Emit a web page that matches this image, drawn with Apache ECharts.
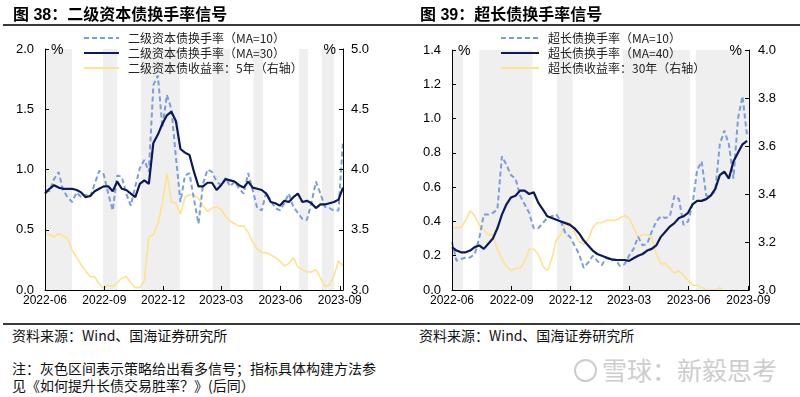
<!DOCTYPE html>
<html>
<head>
<meta charset="utf-8">
<script src="https://cdn.jsdelivr.net/npm/echarts@6/dist/echarts.min.js"></script>
<style>
    body { margin: 0; width: 800px; height: 397px; background: #fff; position: relative; overflow: hidden; font-family: "Noto Sans CJK SC", sans-serif; color: #000; }
    .chart { position: absolute; top: 0; width: 400px; height: 320px; }
    .title { position: absolute; top: 5px; font-size: 16px; line-height: 20px; font-weight: bold; font-family: "Liberation Sans", "Noto Sans CJK SC", sans-serif; }
    .rule { position: absolute; left: 3px; width: 797px; height: 2px; background: #3a3a3a; }
    .txt { position: absolute; font-size: 14px; line-height: 18px; color: #111; white-space: nowrap; }
    .wm { position: absolute; left: 574px; top: 354px; font-size: 25px; line-height: 30px; color: #cdcdcd; white-space: nowrap; }
    .wm .logo { display: inline-block; width: 19px; height: 19px; border: 2px solid #cdcdcd; border-radius: 50%; margin-right: 5px; vertical-align: -2px; }
</style>
</head>
<body>
<div id="main1" class="chart" style="left:0"></div>
<div id="main2" class="chart" style="left:400px"></div>

<div class="title" style="left:13px">图 38：二级资本债换手率信号</div>
<div class="title" style="left:420px">图 39：超长债换手率信号</div>
<div class="rule" style="top:24px"></div>
<div class="rule" style="top:323px"></div>
<div class="txt" style="left:12px; top:326px">资料来源：Wind、国海证券研究所</div>
<div class="txt" style="left:419px; top:326px">资料来源：Wind、国海证券研究所</div>
<div class="txt" style="left:12px; top:359px">注：灰色区间表示策略给出看多信号；指标具体构建方法参</div>
<div class="txt" style="left:12px; top:376px">见《如何提升长债交易胜率？》(后同）</div>
<div class="wm"><span class="logo"></span>雪球：新毅思考</div>

<script>
// x = days since 2022-06-01
var tickDays = [0, 92, 183, 273, 365, 457];
var tickLabels = ['2022-06', '2022-09', '2022-12', '2023-03', '2023-06', '2023-09'];

//---------图38 二级资本债
var days1 = [0, 7, 14, 21, 28, 35, 42, 49, 56, 63, 70, 77, 84, 91, 98, 105, 112, 119, 126, 133,
    140, 147, 154, 161, 168, 175, 182, 189, 196, 203, 210, 217, 224, 231, 238, 245, 252, 259, 266, 273,
    280, 287, 294, 301, 308, 315, 322, 329, 336, 343, 350, 357, 364, 371, 378, 385, 392, 399, 406, 413,
    420, 427, 434, 441, 448, 455, 462];
var ma10_1 = [0.83, 0.82, 0.92, 0.98, 0.83, 0.77, 0.73, 0.81, 0.77, 0.79, 0.77, 0.88, 0.99, 0.96, 0.80, 0.66, 0.95, 0.94, 0.80, 0.70,
    0.86, 1.01, 1.08, 0.98, 1.70, 1.78, 1.35, 1.62, 1.50, 1.10, 0.73, 0.95, 0.97, 0.75, 0.55, 0.88, 1.00, 0.98, 0.90, 0.87,
    0.93, 0.86, 0.90, 0.84, 0.80, 0.97, 0.83, 0.68, 0.66, 0.81, 0.74, 0.68, 0.66, 0.72, 0.80, 0.69, 0.64, 0.59, 0.58, 0.72,
    0.90, 0.80, 0.69, 0.68, 0.66, 0.66, 1.24];
var ma30_1 = [0.80, 0.84, 0.87, 0.85, 0.84, 0.84, 0.84, 0.83, 0.81, 0.77, 0.78, 0.82, 0.84, 0.86, 0.86, 0.82, 0.90, 0.84, 0.83, 0.80,
    0.77, 0.88, 0.91, 0.88, 1.22, 1.29, 1.38, 1.45, 1.48, 1.40, 1.17, 1.14, 1.12, 0.98, 0.86, 0.86, 0.89, 0.89, 0.83, 0.87,
    0.92, 0.91, 0.90, 0.87, 0.85, 0.90, 0.85, 0.84, 0.83, 0.80, 0.73, 0.72, 0.70, 0.74, 0.73, 0.77, 0.80, 0.73, 0.74, 0.72,
    0.68, 0.71, 0.71, 0.72, 0.73, 0.75, 0.85];
var yield5y = [3.46, 3.46, 3.44, 3.47, 3.45, 3.43, 3.33, 3.27, 3.21, 3.16, 3.11, 3.11, 3.05, 3.01, 3.04, 3.03, 3.06, 3.10, 3.11, 3.06,
    3.02, 3.02, 3.08, 3.44, 3.46, 3.55, 3.72, 3.97, 3.73, 3.72, 3.63, 3.77, 3.79, 3.79, 3.76, 3.70, 3.65, 3.68, 3.69, 3.67,
    3.61, 3.57, 3.55, 3.53, 3.53, 3.48, 3.40, 3.34, 3.31, 3.31, 3.29, 3.27, 3.24, 3.20, 3.22, 3.27, 3.19, 3.17, 3.15, 3.15,
    3.17, 3.10, 3.03, 3.04, 3.12, 3.24, 3.20];
var bands1 = [[0, 42], [90, 112], [149, 209], [260, 287], [323, 338], [394, 408], [429, 448]];
var names1 = ['二级资本债换手率（MA=10）', '二级资本债换手率（MA=30）', '二级资本债收益率：5年（右轴）'];

//---------图39 超长债
var days2 = [0, 7, 14, 21, 28, 35, 42, 49, 56, 63, 70, 77, 84, 91, 98, 105, 112, 119, 126, 133,
    140, 147, 154, 161, 168, 175, 182, 189, 196, 203, 210, 217, 224, 231, 238, 245, 252, 259, 266, 273,
    280, 287, 294, 301, 308, 315, 322, 329, 336, 343, 350, 357, 364, 371, 378, 385, 392, 399, 406, 413,
    420, 427, 434, 441, 448, 455];
var ma10_2 = [0.28, 0.17, 0.18, 0.19, 0.19, 0.21, 0.30, 0.44, 0.44, 0.45, 0.47, 0.78, 0.73, 0.67, 0.65, 0.55, 0.50, 0.45, 0.36, 0.36,
    0.39, 0.42, 0.43, 0.44, 0.40, 0.33, 0.31, 0.26, 0.21, 0.13, 0.16, 0.20, 0.17, 0.145, 0.19, 0.17, 0.18, 0.14, 0.15, 0.20,
    0.24, 0.31, 0.26, 0.27, 0.34, 0.40, 0.43, 0.42, 0.43, 0.55, 0.53, 0.38, 0.40, 0.50, 0.70, 0.75, 0.55, 0.55, 0.58, 0.85,
    0.93, 0.85, 0.65, 1.00, 1.13, 0.90];
var ma40_2 = [0.25, 0.23, 0.22, 0.22, 0.23, 0.25, 0.26, 0.24, 0.27, 0.30, 0.36, 0.44, 0.50, 0.54, 0.55, 0.58, 0.58, 0.56, 0.57, 0.51,
    0.47, 0.43, 0.42, 0.41, 0.40, 0.39, 0.38, 0.36, 0.33, 0.29, 0.26, 0.23, 0.21, 0.20, 0.19, 0.18, 0.175, 0.175, 0.175, 0.17,
    0.185, 0.20, 0.21, 0.23, 0.24, 0.26, 0.31, 0.34, 0.37, 0.39, 0.42, 0.43, 0.45, 0.50, 0.52, 0.52, 0.53, 0.55, 0.59, 0.67,
    0.69, 0.65, 0.75, 0.80, 0.85, 0.87];
var yield30y = [3.26, 3.26, 3.26, 3.29, 3.33, 3.31, 3.27, 3.25, 3.23, 3.23, 3.17, 3.13, 3.10, 3.08, 3.09, 3.09, 3.12, 3.17, 3.17, 3.15,
    3.10, 3.08, 3.13, 3.21, 3.23, 3.28, 3.28, 3.24, 3.20, 3.19, 3.21, 3.26, 3.28, 3.28, 3.29, 3.29, 3.29, 3.30, 3.31, 3.30,
    3.26, 3.22, 3.23, 3.23, 3.22, 3.15, 3.11, 3.11, 3.09, 3.07, 3.08, 3.06, 3.04, 3.02, 3.02, 3.01, 3.00, 3.00, 3.00, 3.01,
    2.99, 2.97, 2.96, 2.95, 2.96, 2.97];
var bands2 = [[0, 17], [42, 124], [162, 186], [264, 367], [376, 458]];
var names2 = ['超长债换手率（MA=10）', '超长债换手率（MA=40）', '超长债收益率：30年（右轴）'];

var C_MA10 = '#7c9ddb', C_MA = '#0c1a5b', C_YLD = '#ffe28c', C_BAND = '#efefef';
var NUM_FONT = 'Liberation Sans';

function pairs(xs, ys) {
    return xs.map(function(x, i) { return [x, ys[i]]; });
}

function yAxis(min, max, step, pos, margin) {
    return {
        type: 'value', min: min, max: max, interval: step, position: pos, z: 10,
        name: '%', nameLocation: 'end', nameGap: -1,
        nameTextStyle: {
            color: '#000', fontSize: 14, fontFamily: NUM_FONT, verticalAlign: 'middle',
            align: pos == 'left' ? 'left' : 'right',
            padding: pos == 'left' ? [0, 0, 0, 6] : [0, 7, 0, 0]
        },
        axisLine: { show: true, lineStyle: { color: '#000', width: 1 } },
        axisTick: { show: true, inside: true, length: 4, lineStyle: { color: '#000' } },
        splitLine: { show: false },
        axisLabel: {
            color: '#000', fontSize: 13, fontFamily: NUM_FONT, margin: margin,
            formatter: function(v) { return v.toFixed(1); }
        }
    };
}

function buildOption(g, legendLeft, iconW, xMax, days, s10, sMa, sYld, bands, names, yLeft, yRight) {
    return {
        animation: false,
        grid: { left: g[0], top: g[1], width: g[2], height: g[3], outerBoundsMode: 'none' },
        legend: {
            orient: 'vertical', left: legendLeft, top: 27, itemWidth: iconW, itemHeight: 12, itemGap: 3,
            data: names,
            itemStyle: { opacity: 0 },
            textStyle: { color: '#222', fontSize: 12, fontFamily: 'Noto Sans CJK SC', padding: [0, 0, 0, 4] }
        },
        xAxis: {
            type: 'value', min: 0, max: xMax, z: 10,
            axisLine: { lineStyle: { color: '#000', width: 1 } },
            axisTick: { show: true, inside: true, length: 4, customValues: tickDays, lineStyle: { color: '#000' } },
            splitLine: { show: false },
            axisLabel: {
                customValues: tickDays, color: '#000', fontSize: 12, fontFamily: NUM_FONT, margin: 5,
                formatter: function(v) {
                    var i = tickDays.indexOf(v);
                    return i >= 0 ? tickLabels[i] : '';
                }
            }
        },
        yAxis: [yLeft, yRight],
        series: [{
            // gray bands = bullish signal periods
            type: 'line', data: [], z: 1, silent: true,
            markArea: {
                silent: true,
                itemStyle: { color: C_BAND },
                data: bands.map(function(b) { return [{ xAxis: b[0] }, { xAxis: b[1] }]; })
            }
        }, {
            name: names[0], type: 'line', data: pairs(days, s10), symbol: 'none', z: 3,
            lineStyle: { color: C_MA10, width: 2, type: [5, 3] },
            itemStyle: { color: C_MA10 }
        }, {
            name: names[1], type: 'line', data: pairs(days, sMa), symbol: 'none', z: 4,
            lineStyle: { color: C_MA, width: 2.2 },
            itemStyle: { color: C_MA }
        }, {
            name: names[2], type: 'line', yAxisIndex: 1, data: pairs(days, sYld), symbol: 'none', z: 2,
            lineStyle: { color: C_YLD, width: 1.6 },
            itemStyle: { color: C_YLD }
        }]
    };
}

var myChart1 = echarts.init(document.getElementById('main1'));
var myChart2 = echarts.init(document.getElementById('main2'));

var option1 = buildOption([45, 49, 298, 241], 78, 35, 462, days1, ma10_1, ma30_1, yield5y, bands1, names1,
    yAxis(0, 2, 0.5, 'left', 11), yAxis(3, 5, 0.5, 'right', 8));
var option2 = buildOption([52, 50, 297, 240], 95, 38, 458, days2, ma10_2, ma40_2, yield30y, bands2, names2,
    yAxis(0, 1.4, 0.2, 'left', 11), yAxis(3, 4, 0.2, 'right', 9));

myChart1.setOption(option1);
myChart2.setOption(option2);
</script>
</body>
</html>
